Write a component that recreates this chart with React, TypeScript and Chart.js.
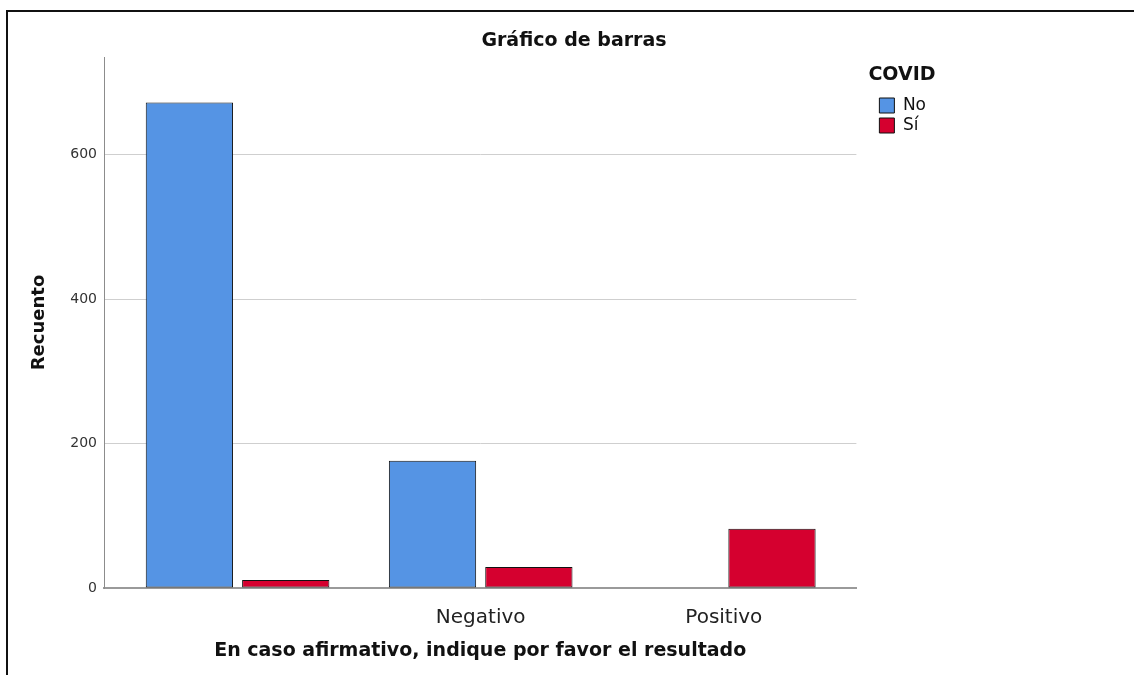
import React, { useEffect, useRef } from 'react';
import { Chart, registerables } from 'chart.js';

Chart.register(...registerables);

// ---- data ----
const categoryLabels = ['', 'Negativo', 'Positivo'];
const categoryPositions = [0, 1, 2];
const seriesNames = ['No', 'Sí'];
const noCounts = [672, 176, 0];
const siCounts = [11, 29, 82];
const yTickStep = 200;
const yMax = 735;

const chartTitle = 'Gráfico de barras';
const xTitle = 'En caso afirmativo, indique por favor el resultado';
const yTitle = 'Recuento';
const legendTitle = 'COVID';

const FONT = "'DejaVu Sans', sans-serif";

// draws the legend heading slightly left of the legend items (as in the original)
const legendHeadingPlugin = {
  id: 'legendHeading',
  afterDraw(chart: any) {
    const lg = chart.legend;
    if (!lg) return;
    const ctx = chart.ctx;
    ctx.save();
    ctx.font = `bold 19px ${FONT}`;
    ctx.fillStyle = '#111';
    ctx.textAlign = 'left';
    ctx.textBaseline = 'middle';
    ctx.fillText(legendTitle, lg.left - 8, lg.top + 63.4);
    ctx.restore();
  },
};

export default function App() {
  const ref = useRef<HTMLCanvasElement | null>(null);

  useEffect(() => {
    if (!ref.current) return;
    Chart.defaults.font.family = FONT;
    const barStyle = {
      borderColor: '#111',
      borderWidth: 1,
      borderSkipped: false,
      categoryPercentage: 0.7926,
      barPercentage: 0.906,
    };
    const chart = new Chart(ref.current, {
      type: 'bar',
      data: {
        datasets: [
          {
            label: seriesNames[0],
            data: categoryPositions.map((x, i) => ({ x, y: noCounts[i] })),
            backgroundColor: '#5594e4',
            ...barStyle,
          },
          {
            label: seriesNames[1],
            data: categoryPositions.map((x, i) => ({ x, y: siCounts[i] })),
            backgroundColor: '#d5002f',
            ...barStyle,
          },
        ],
      },
      options: {
        responsive: false,
        animation: false,
        devicePixelRatio: 1,
        layout: { padding: { left: 6, top: 0, right: 0, bottom: 0 } },
        scales: {
          x: {
            type: 'linear',
            offset: false,
            min: -0.5494,
            max: 2.5453,
            grid: { display: false },
            border: { display: true, color: '#9a9a9a', width: 2 },
            afterBuildTicks: (s: any) => {
              s.ticks = categoryPositions.map((v) => ({ value: v }));
            },
            ticks: {
              callback: (v: any) => categoryLabels[v] ?? '',
              font: { size: 20 },
              color: '#222',
              padding: 10,
              maxRotation: 0,
              autoSkip: false,
            },
            title: {
              display: true,
              text: xTitle,
              font: { size: 19, weight: 'bold' },
              color: '#111',
              padding: { top: 0, bottom: 13 },
            },
            afterFit: (s: any) => {
              s.height = 87;
            },
          },
          y: {
            min: 0,
            max: yMax,
            ticks: {
              stepSize: yTickStep,
              includeBounds: false,
              font: { size: 14 },
              color: '#333',
              padding: 7,
            },
            grid: { color: '#cfcfcf', lineWidth: 1, drawTicks: false },
            border: { display: true, color: '#8c8c8c', width: 1 },
            title: {
              display: true,
              text: yTitle,
              font: { size: 18, weight: 'bold' },
              color: '#111',
              padding: { top: 15, bottom: 0 },
            },
            afterFit: (s: any) => {
              s.width = 90;
            },
          },
          gap: {
            type: 'linear',
            position: 'right',
            weight: 0,
            display: true,
            grid: { display: false },
            border: { display: false },
            ticks: { display: false },
            afterFit: (s: any) => {
              s.width = 20;
            },
          },
          fill: {
            type: 'linear',
            position: 'right',
            weight: 2000,
            display: true,
            grid: { display: false },
            border: { display: false },
            ticks: { display: false },
            afterFit: (s: any) => {
              s.width = 198;
            },
          },
        } as any,
        plugins: {
          title: {
            display: true,
            text: chartTitle,
            font: { size: 19, weight: 'bold' },
            color: '#111',
            padding: { top: 17.3, bottom: 4.9 },
          },
          legend: {
            position: 'right',
            align: 'start',
            title: {
              display: true,
              text: '',
              position: 'start',
              font: { size: 19, weight: 'bold' },
              padding: { top: 53.9, bottom: 5.3 },
            } as any,
            labels: {
              boxWidth: 15,
              boxHeight: 15,
              padding: 3,
              font: { size: 17 },
              color: '#111',
            },
          },
          tooltip: { enabled: false },
        },
      } as any,
      plugins: [legendHeadingPlugin],
    });
    return () => chart.destroy();
  }, []);

  return (
    <div
      style={{
        position: 'fixed',
        left: 0,
        top: 0,
        width: 1134,
        height: 675,
        background: '#fff',
        overflow: 'hidden',
      }}
    >
      <div
        style={{
          position: 'absolute',
          left: 6,
          top: 10,
          right: -10,
          bottom: -10,
          borderTop: '2px solid #111',
          borderLeft: '2px solid #111',
        }}
      />
      <canvas
        ref={ref}
        width={1126}
        height={663}
        style={{ position: 'absolute', left: 8, top: 12, width: 1126, height: 663 }}
      />
    </div>
  );
}
